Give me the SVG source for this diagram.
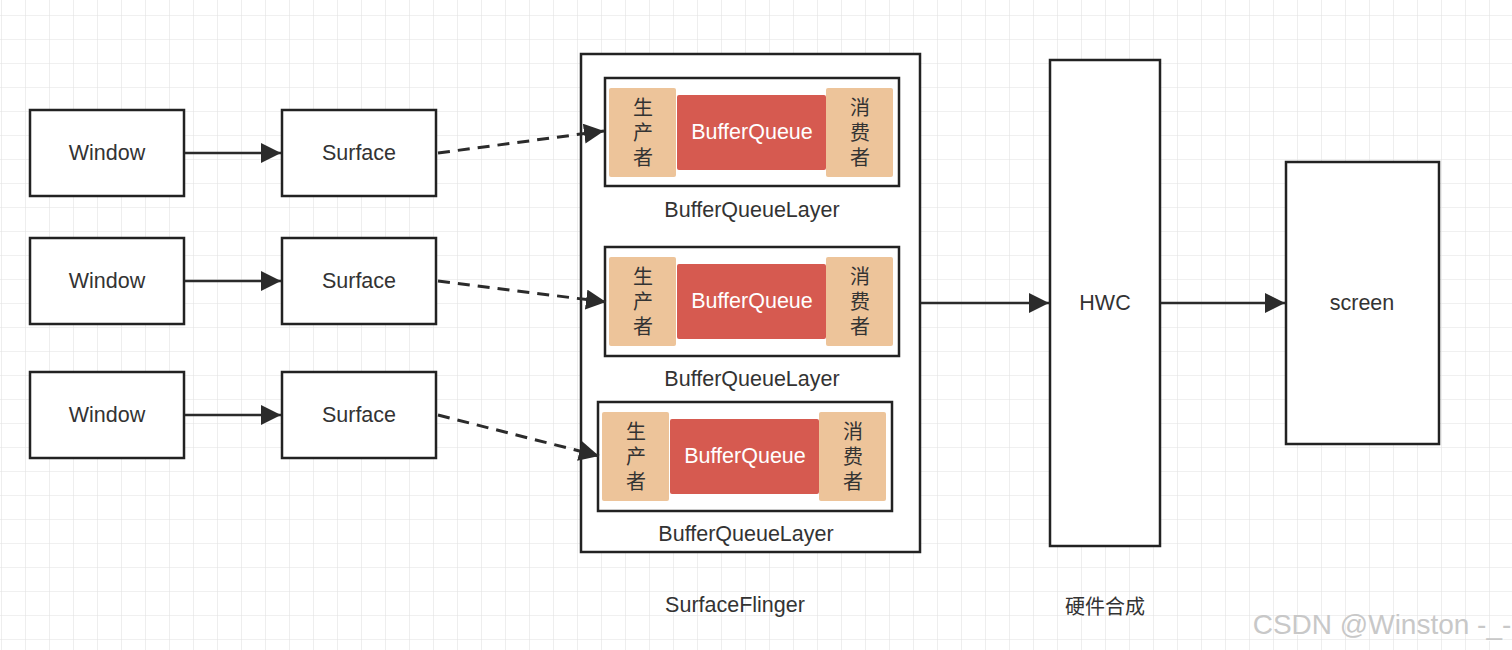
<svg xmlns="http://www.w3.org/2000/svg" width="1512" height="650" viewBox="0 0 1512 650">
<defs>
<pattern id="grid" width="24" height="24" patternUnits="userSpaceOnUse" x="1" y="15">
<path d="M0 0H24M0 0V24" fill="none" stroke="#e2e2e2" stroke-width="1.2"/>
</pattern>
<marker id="ah" viewBox="0 0 10 10" refX="10" refY="5" markerWidth="20" markerHeight="20" markerUnits="userSpaceOnUse" orient="auto">
<path d="M0 0L10 5L0 10z" fill="#2b2b2b"/>
</marker>
<style>
.box{fill:#fff;stroke:#222;stroke-width:2.5}
.t{font-family:"Liberation Sans","Noto Sans CJK SC",sans-serif;font-size:21.5px;fill:#333;text-anchor:middle;dominant-baseline:central}
.cn{font-family:"Noto Sans CJK SC",sans-serif;font-size:20px;fill:#333;text-anchor:middle;dominant-baseline:central}
.v{font-family:"Noto Sans CJK SC",sans-serif;font-size:20px;fill:#333;text-anchor:middle;dominant-baseline:central;writing-mode:vertical-rl;letter-spacing:5px}
.pt{fill:#EDC49A}
.bq{fill:#D65A50}
.bqt{font-family:"Liberation Sans",sans-serif;font-size:21.5px;fill:#fff;text-anchor:middle;dominant-baseline:central}
.sl{stroke:#2b2b2b;stroke-width:2.5;fill:none;marker-end:url(#ah)}
.dl{stroke:#2b2b2b;stroke-width:3;fill:none;stroke-dasharray:12 8;marker-end:url(#ah)}
</style>
</defs>
<rect width="1512" height="650" fill="#fff"/>
<rect width="1512" height="650" fill="url(#grid)"/>

<g id="window1"><rect class="box" x="30" y="110" width="154" height="86"/><text class="t" x="107" y="153">Window</text></g>
<g id="window2"><rect class="box" x="30" y="238" width="154" height="86"/><text class="t" x="107" y="281">Window</text></g>
<g id="window3"><rect class="box" x="30" y="372" width="154" height="86"/><text class="t" x="107" y="415">Window</text></g>

<g id="surface1"><rect class="box" x="282" y="110" width="154" height="86"/><text class="t" x="359" y="153">Surface</text></g>
<g id="surface2"><rect class="box" x="282" y="238" width="154" height="86"/><text class="t" x="359" y="281">Surface</text></g>
<g id="surface3"><rect class="box" x="282" y="372" width="154" height="86"/><text class="t" x="359" y="415">Surface</text></g>

<g id="surfaceflinger">
<rect class="box" x="581" y="54" width="339" height="498"/>
<text class="t" x="735" y="605">SurfaceFlinger</text>
</g>

<g id="layer1">
<rect class="box" x="605" y="78" width="294" height="108"/>
<rect class="pt" x="609" y="88" width="67" height="89" rx="2"/>
<text class="v" x="643" y="135">生产者</text>
<rect class="bq" x="677" y="95" width="149" height="75" rx="2"/>
<text class="bqt" x="752" y="132">BufferQueue</text>
<rect class="pt" x="826" y="88" width="67" height="89" rx="2"/>
<text class="v" x="860" y="135">消费者</text>
<text class="t" x="752" y="210">BufferQueueLayer</text>
</g>

<g id="layer2">
<rect class="box" x="605" y="247" width="294" height="109"/>
<rect class="pt" x="609" y="257" width="67" height="89" rx="2"/>
<text class="v" x="643" y="304">生产者</text>
<rect class="bq" x="677" y="264" width="149" height="75" rx="2"/>
<text class="bqt" x="752" y="301">BufferQueue</text>
<rect class="pt" x="826" y="257" width="67" height="89" rx="2"/>
<text class="v" x="860" y="304">消费者</text>
<text class="t" x="752" y="379">BufferQueueLayer</text>
</g>

<g id="layer3">
<rect class="box" x="598" y="402" width="294" height="109"/>
<rect class="pt" x="602" y="412" width="67" height="89" rx="2"/>
<text class="v" x="636" y="459">生产者</text>
<rect class="bq" x="670" y="419" width="149" height="75" rx="2"/>
<text class="bqt" x="745" y="456">BufferQueue</text>
<rect class="pt" x="819" y="412" width="67" height="89" rx="2"/>
<text class="v" x="853" y="459">消费者</text>
<text class="t" x="746" y="534">BufferQueueLayer</text>
</g>

<g id="hwc">
<rect class="box" x="1050" y="60" width="110" height="486"/>
<text class="t" x="1105" y="303">HWC</text>
<text class="cn" x="1105" y="605">硬件合成</text>
</g>

<g id="screen">
<rect class="box" x="1286" y="162" width="153" height="282"/>
<text class="t" x="1362" y="303">screen</text>
</g>

<g id="connectors">
<line class="sl" x1="185" y1="153" x2="281" y2="153"/>
<line class="sl" x1="185" y1="281" x2="281" y2="281"/>
<line class="sl" x1="185" y1="415" x2="281" y2="415"/>
<line class="dl" x1="438" y1="153" x2="604" y2="131"/>
<line class="dl" x1="438" y1="281" x2="606" y2="302"/>
<line class="dl" x1="438" y1="415" x2="599" y2="456"/>
<line class="sl" x1="921" y1="303" x2="1049" y2="303"/>
<line class="sl" x1="1161" y1="303" x2="1285" y2="303"/>
</g>

<text x="1382" y="634" font-family="Liberation Sans,sans-serif" font-size="28" fill="#fff" text-anchor="middle" opacity="0.9" dx="1" dy="1">CSDN @Winston -_-</text>
<text x="1382" y="634" font-family="Liberation Sans,sans-serif" font-size="28" fill="#c8c8c8" text-anchor="middle">CSDN @Winston -_-</text>
</svg>
